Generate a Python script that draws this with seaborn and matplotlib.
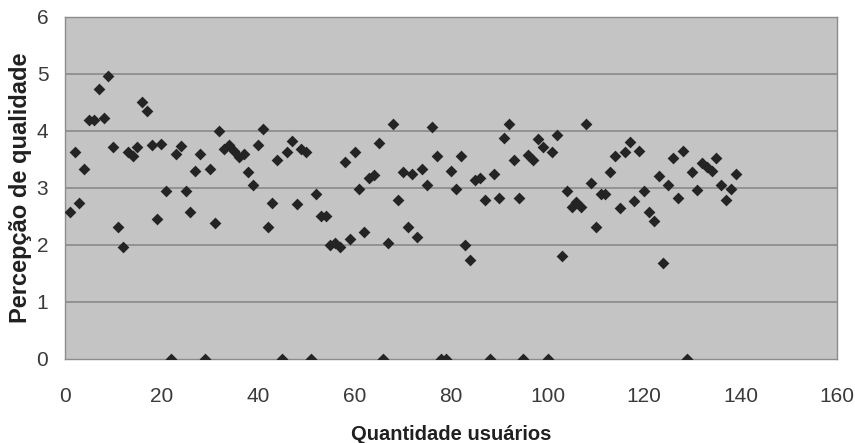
import numpy as np
import pandas as pd
import matplotlib
matplotlib.use("Agg")
import matplotlib.pyplot as plt
import seaborn as sns

# =========================
# DATA
# =========================

usuarios = list(range(1, 140))

percepcao = [
    2.58, 3.62, 2.74, 3.33, 4.19, 4.19, 4.73, 4.22, 4.97, 3.72,
    2.32, 1.96, 3.62, 3.55, 3.72, 4.51, 4.34, 3.75, 2.45, 3.77,
    2.94, 0.00, 3.60, 3.74, 2.95, 2.58, 3.30, 3.59, 0.00, 3.33,
    2.39, 4.00, 3.69, 3.75, 3.64, 3.54, 3.60, 3.27, 3.05, 3.75,
    4.04, 2.31, 2.74, 3.49, 0.00, 3.62, 3.83, 2.71, 3.68, 3.62,
    0.00, 2.89, 2.51, 2.51, 2.00, 2.03, 1.96, 3.46, 2.10, 3.62,
    2.98, 2.22, 3.18, 3.22, 3.78, 0.00, 2.03, 4.12, 2.79, 3.27,
    2.32, 3.24, 2.14, 3.33, 3.05, 4.07, 3.56, 0.00, 0.00, 3.30,
    2.98, 3.56, 1.99, 1.74, 3.14, 3.18, 2.79, 0.00, 3.24, 2.83,
    3.88, 4.12, 3.49, 2.83, 0.00, 3.58, 3.49, 3.85, 3.72, 0.00,
    3.62, 3.93, 1.81, 2.95, 2.66, 2.76, 2.67, 4.12, 3.08, 2.31,
    2.89, 2.89, 3.27, 3.56, 2.64, 3.62, 3.81, 2.77, 3.65, 2.95,
    2.58, 2.42, 3.21, 1.68, 3.05, 3.53, 2.83, 3.65, 0.00, 3.27,
    2.96, 3.43, 3.37, 3.30, 3.53, 3.05, 2.79, 2.98, 3.24,
]

x_ticks = [0, 20, 40, 60, 80, 100, 120, 140, 160]
y_ticks = [0, 1, 2, 3, 4, 5, 6]

df = pd.DataFrame({"usuarios": usuarios, "percepcao": percepcao})

# =========================
# STYLE
# =========================

sns.set_style("white")
plt.rcParams["font.family"] = ["Liberation Sans", "DejaVu Sans"]

fig = plt.figure(figsize=(8.55, 4.43), dpi=100)
ax = fig.add_axes([0.076, 0.19, 0.903, 0.772])

ax.set_facecolor("#c4c4c4")

# =========================
# SCATTER
# =========================

sns.scatterplot(
    data=df,
    x="usuarios",
    y="percepcao",
    marker="D",
    color="#242424",
    s=36,
    linewidth=0,
    ax=ax,
    zorder=3
)

ax.set_xlim(0, 160)
ax.set_ylim(0, 6)
ax.set_xticks(x_ticks)
ax.set_yticks(y_ticks)

for v in y_ticks[1:]:
    ax.axhline(v, color="#858585", linewidth=1.1, zorder=1)

for side in ["left", "bottom", "top", "right"]:
    ax.spines[side].set_color("#8c8c8c")
    ax.spines[side].set_linewidth(1.0)

ax.tick_params(
    axis="both",
    direction="out",
    length=5,
    width=0.9,
    color="#8c8c8c",
    labelcolor="#3a3a3a",
    labelsize=15
)
ax.tick_params(axis="x", pad=15)
ax.tick_params(axis="y", pad=7)

ax.set_xlabel(
    "Quantidade usuários",
    fontsize=14.5,
    fontweight="bold",
    color="#202020",
    labelpad=14
)
ax.set_ylabel(
    "Percepção de qualidade",
    fontsize=17,
    fontweight="bold",
    color="#202020",
    labelpad=3
)

fig.savefig("out.png", dpi=100)
